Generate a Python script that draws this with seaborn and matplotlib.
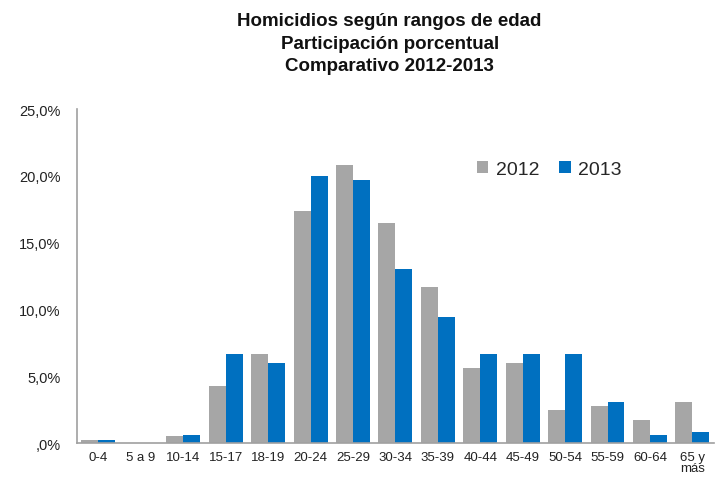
import matplotlib
matplotlib.use("Agg")
import matplotlib.pyplot as plt
from matplotlib.ticker import FuncFormatter
import seaborn as sns
import pandas as pd

# Age ranges and share of homicides (%)
categories = ["0-4", "5 a 9", "10-14", "15-17", "18-19", "20-24", "25-29", "30-34",
              "35-39", "40-44", "45-49", "50-54", "55-59", "60-64", "65 y\nmás"]
values_2012 = [0.2, 0.0, 0.5, 4.3, 6.7, 17.4, 20.8, 16.5, 11.7, 5.6, 6.0, 2.5, 2.8, 1.7, 3.1]
values_2013 = [0.2, 0.0, 0.6, 6.7, 6.0, 20.0, 19.7, 13.0, 9.4, 6.7, 6.7, 6.7, 3.1, 0.6, 0.8]
years = ["2012", "2013"]
colors = ["#A6A6A6", "#0070C0"]

df = pd.DataFrame({
    "Rango": categories * 2,
    "Año": [years[0]] * len(categories) + [years[1]] * len(categories),
    "Porcentaje": values_2012 + values_2013,
})

sns.set_theme(style="white")
plt.rcParams["font.family"] = ["Liberation Sans", "DejaVu Sans"]

fig = plt.figure(figsize=(7.15, 4.89), dpi=100)
ax = fig.add_axes([0.108, 0.092, 0.89, 0.683])

sns.barplot(data=df, x="Rango", y="Porcentaje", hue="Año", palette=colors,
            width=0.8, gap=0, saturation=1, linewidth=0, ax=ax)

ax.set_ylim(0, 25)
ax.set_yticks([0, 5, 10, 15, 20, 25])
ax.yaxis.set_major_formatter(FuncFormatter(
    lambda v, p: ",0%" if v == 0 else f"{v:.1f}%".replace(".", ",")))
ax.set_xlim(-0.5, len(categories) - 0.5)
ax.set_xlabel("")
ax.set_ylabel("")
ax.tick_params(axis="y", labelsize=10.5, colors="#222222", length=0, pad=12)
ax.tick_params(axis="x", labelsize=9.5, colors="#222222", length=0, pad=6)
for lab in ax.get_xticklabels():
    lab.set_linespacing(0.9)
    lab.set_verticalalignment("top")

for side in ["top", "right"]:
    ax.spines[side].set_visible(False)
for side in ["left", "bottom"]:
    ax.spines[side].set_color("#A0A0A0")
    ax.spines[side].set_linewidth(1.2)

ax.legend(loc="center left", bbox_to_anchor=(0.6, 0.82), ncol=2, frameon=False,
          fontsize=14, handlelength=0.6, handleheight=0.6, handletextpad=0.4,
          columnspacing=1.0)

fig.text(0.545, 0.974, "Homicidios según rangos de edad\nParticipación porcentual\nComparativo 2012-2013",
         ha="center", va="top", fontsize=13.5, fontweight="bold", color="#111111",
         linespacing=1.45)

fig.savefig("out.png", dpi=100)
